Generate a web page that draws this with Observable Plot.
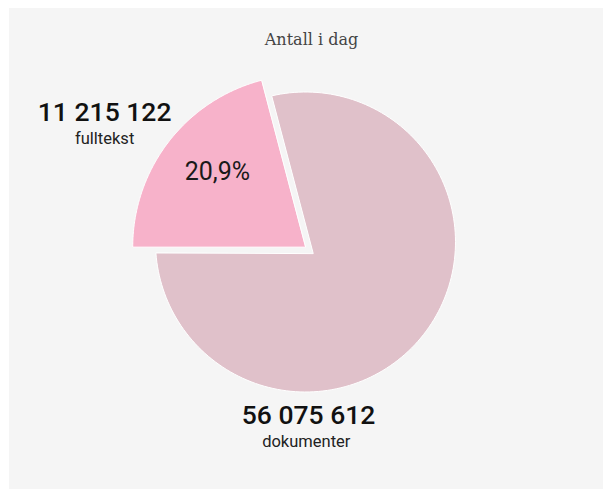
<!DOCTYPE html>
<html>
<head>
<meta charset="utf-8">
<script src="https://cdn.jsdelivr.net/npm/d3@7"></script>
<script src="https://cdn.jsdelivr.net/npm/@observablehq/plot@0.6"></script>
<style>
  html, body { margin: 0; padding: 0; background: #fff; }
  #wrap { position: relative; width: 603px; height: 489px; overflow: hidden; background: #fff; }
  #panel { position: absolute; left: 9px; top: 8px; right: 0; bottom: 0; background: #f5f5f5; }
  #title { position: absolute; left: 20px; right: 0; top: 30px; line-height: 20px; text-align: center;
           font-family: "DejaVu Serif", serif; font-size: 16px; color: #444; }
  #chart { position: absolute; left: 0; top: 0; }
  #chart svg { font-family: Roboto, sans-serif; }
</style>
</head>
<body>
<div id="wrap">
  <div id="panel"></div>
  <div id="title">Antall i dag</div>
  <div id="chart"></div>
</div>
<script>
// ---- data ----
const categories = ["fulltekst", "dokumenter"];
const shares = [20.9, 79.1];
const countLabels = ["11 215 122", "56 075 612"];
const shareLabels = ["20,9%", ""];

// ---- layout (styles / geometry, not data) ----
const sliceColors = ["#f7b2ca", "#e0c1ca"];
const R = 150, O = [305, 241.5];           // pixel radius and disk centre of main pie
const C = [0.051, 0.075];                  // pie apex relative to disk centre (radius units)
const geom = [
  { explode: 10 / 150, r: 1.15, diskAtApex: true },
  { explode: 0, r: 1.0, disk: [0, 0] }
];

const arcs = d3.pie().sort(null).startAngle(-Math.PI / 2).endAngle(3 * Math.PI / 2)(shares);

const points = [];
const labelRows = [];
arcs.forEach((p, i) => {
  const g = geom[i];
  const mid = (p.startAngle + p.endAngle) / 2;
  const A = [C[0] + g.explode * Math.sin(mid), C[1] - g.explode * Math.cos(mid)];
  const D = g.diskAtApex ? A : g.disk;
  const hit = a => {
    const d = [Math.sin(a), -Math.cos(a)];
    const w = [A[0] - D[0], A[1] - D[1]];
    const b = d[0] * w[0] + d[1] * w[1];
    const c = w[0] * w[0] + w[1] * w[1] - g.r * g.r;
    const t = -b + Math.sqrt(b * b - c);
    return [A[0] + t * d[0], A[1] + t * d[1]];
  };
  const ang = P => Math.atan2(P[0] - D[0], -(P[1] - D[1]));
  let f0 = ang(hit(p.startAngle)), f1 = ang(hit(p.endAngle));
  while (f1 <= f0) f1 += 2 * Math.PI;
  points.push({ slice: categories[i], x: A[0], y: A[1] });
  const n = 160;
  for (let k = 0; k <= n; k++) {
    const f = f0 + (f1 - f0) * k / n;
    points.push({ slice: categories[i], x: D[0] + g.r * Math.sin(f), y: D[1] - g.r * Math.cos(f) });
  }
  // label anchors
  if (i === 0) {
    const a = mid - 0.066, dist = 1.61;
    labelRows.push({ kind: "count", text: countLabels[i], x: A[0] + dist * Math.sin(a), y: A[1] - dist * Math.cos(a) });
    labelRows.push({ kind: "cat", text: categories[i], x: A[0] + dist * Math.sin(a), y: A[1] - dist * Math.cos(a) });
    const pd = 0.77;
    labelRows.push({ kind: "share", text: shareLabels[i], x: A[0] + pd * Math.sin(mid + 0.05), y: A[1] - pd * Math.cos(mid + 0.05) });
  } else {
    const a = Math.PI, dist = 1.16;
    labelRows.push({ kind: "count", text: countLabels[i], x: D[0] + 0.02 + dist * Math.sin(a), y: D[1] - dist * Math.cos(a) });
    labelRows.push({ kind: "cat", text: categories[i], x: D[0] + 0.005 + dist * Math.sin(a), y: D[1] - dist * Math.cos(a) });
  }
});

const chart = Plot.plot({
  width: 603,
  height: 489,
  margin: 0,
  x: { domain: [-1, 1], range: [O[0] - R, O[0] + R], axis: null },
  y: { domain: [-1, 1], range: [O[1] - R, O[1] + R], axis: null },
  color: { domain: categories, range: sliceColors },
  style: { background: "transparent", overflow: "visible" },
  marks: [
    Plot.line(points, { x: "x", y: "y", z: "slice", fill: "slice", stroke: "#ffffff", strokeWidth: 1, curve: "linear-closed" }),
    Plot.text(labelRows.filter(d => d.kind === "count"), { x: "x", y: "y", text: "text", fontSize: 26.5, fontWeight: 500, fill: "#111" }),
    Plot.text(labelRows.filter(d => d.kind === "cat"), { x: "x", y: "y", text: "text", fontSize: 16.5, dy: 26, fill: "#222" }),
    Plot.text(labelRows.filter(d => d.kind === "share"), { x: "x", y: "y", text: "text", fontSize: 25, fill: "#1a1a1a" })
  ]
});
document.getElementById("chart").appendChild(chart);
</script>
</body>
</html>
